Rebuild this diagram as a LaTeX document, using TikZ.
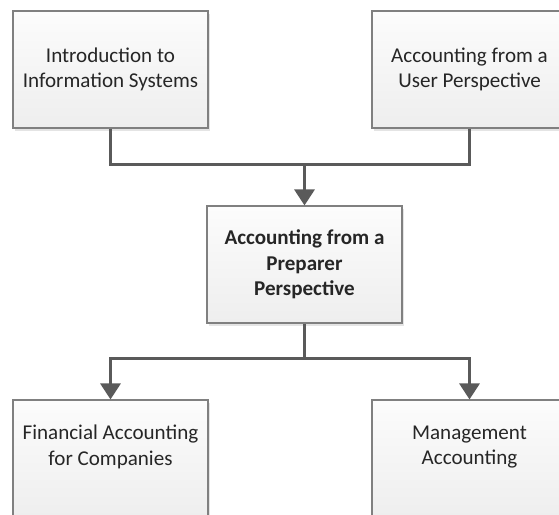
\documentclass[tikz,border=0pt]{standalone}
\usepackage{fontspec}
\setmainfont{Carlito}
\usepackage{xcolor}
\definecolor{boxline}{RGB}{128,128,128}
\definecolor{boxtop}{RGB}{252,252,252}
\definecolor{boxbot}{RGB}{238,238,238}
\definecolor{linkgray}{RGB}{90,90,90}
\definecolor{shadowgray}{RGB}{228,228,228}
\usetikzlibrary{arrows.meta,positioning,shadows}

\begin{document}
\begin{tikzpicture}[x=0.75pt,y=-0.75pt,
    box/.style={draw=boxline,line width=0.8pt,top color=boxtop,bottom color=boxbot,
      minimum width=146.25pt,minimum height=87.75pt,align=center,inner sep=2pt,
      font=\fontsize{15.8}{19}\selectfont,text=black!85,
      general shadow={fill=shadowgray,shadow xshift=1.5pt,shadow yshift=-2.2pt}},
    link/.style={draw=linkgray,line width=2.25pt},
    arr/.style={link,-{Triangle[width=15pt,length=12pt]}}]
  \useasboundingbox (0,0) rectangle (559,514);
  \clip (0,0) rectangle (559,514);

  % Boxes
  \node[box] (intro) at (110.5,69.5) {Introduction to\\Information Systems};
  \node[box] (user) at (469.5,69.5) {Accounting from a\\User Perspective};
  \node[box,font=\fontsize{15.8}{19}\selectfont\bfseries] (prep) at (304.5,264.5) {Accounting from a\\Preparer\\Perspective};
  \node[box,text depth=20pt] (fin) at (110.5,458.5) {Financial Accounting\\for Companies};
  \node[box,text depth=20pt] (mgmt) at (469.5,458.5) {Management\\Accounting};

  % Connectors
  \coordinate (join) at (304.5,164);
  \coordinate (split) at (304.5,358);
  \draw[link] (intro.south) |- (join);
  \draw[link] (user.south) |- (join);
  \draw[arr] (join) -- (prep.north);
  \draw[link] (prep.south) -- (split);
  \draw[arr] (split) -| (fin.north);
  \draw[arr] (split) -| (mgmt.north);
\end{tikzpicture}
\end{document}
